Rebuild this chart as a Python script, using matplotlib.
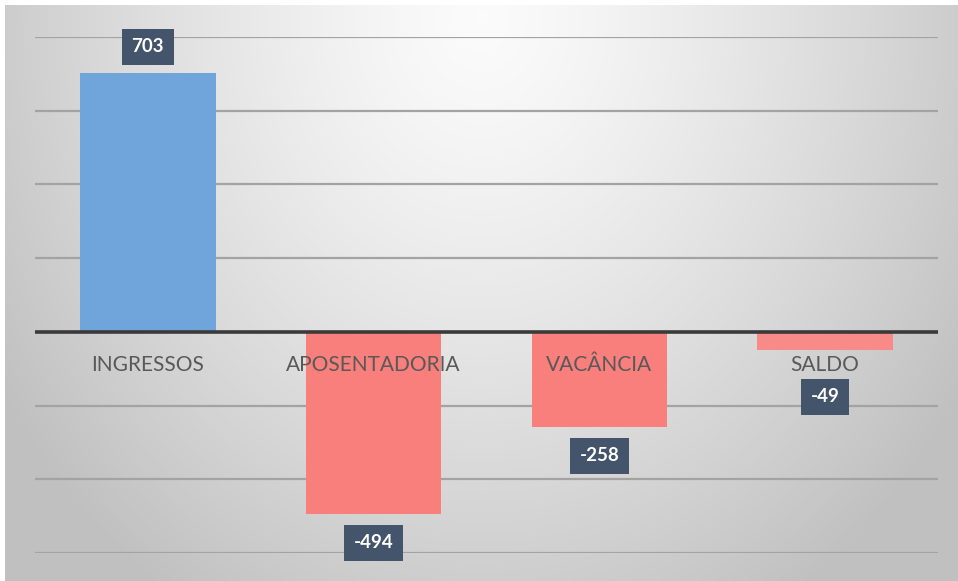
import matplotlib.pyplot as plt
import numpy as np

categorias = ['INGRESSOS', 'APOSENTADORIA', 'VACÂNCIA', 'SALDO']
valores = [703, -494, -258, -49]
cores = ['#6fa5da', '#f87f7b', '#f87f7b', '#f88a87']

W, H = 958, 581
fig = plt.figure(figsize=(W / 100, H / 100), dpi=100)
fig.patch.set_facecolor('white')

# fundo com gradiente radial (estilo Excel)
bg = fig.add_axes([5 / W, 0, 1 - 5 / W, (H - 5) / H])
bg.set_axis_off()
yy, xx = np.mgrid[0:1:300j, 0:1:500j]
t = np.sqrt(((xx - 0.5) / 0.6) ** 2 + ((yy - 0.02) / 1.2) ** 2)
t = np.clip(t, 0, 1)
g = 0.985 - 0.23 * t ** 1.3
img = np.dstack([g, g, g])
bg.imshow(img, extent=[0, 1, 0, 1], origin='upper', aspect='auto')
bg.set_xlim(0, 1)
bg.set_ylim(0, 1)

ax = fig.add_axes([35 / W, 28 / H, 903 / W, 516 / H])
ax.patch.set_alpha(0)
ax.set_xlim(-0.5, 3.5)
ax.set_ylim(-600, 800)

for y in range(-600, 801, 200):
    if y != 0:
        ax.axhline(y, color='#a3a3a3', lw=1.6, zorder=1)

x = np.arange(len(categorias))
ax.bar(x, valores, width=0.6, color=cores, zorder=2)
ax.axhline(0, color='#3a3a3a', lw=2.6, zorder=3)

for s in ax.spines.values():
    s.set_visible(False)
ax.set_xticks([])
ax.set_yticks([])

for i, c in enumerate(categorias):
    ax.annotate(c, (i, 0), xytext=(0, -33), textcoords='offset pixels',
                ha='center', va='center', fontsize=15, color='#595959',
                family='Lato', zorder=4)

for i, v in enumerate(valores):
    if v >= 0:
        off = 26
    elif abs(v) < 100:
        off = -47
    else:
        off = -29
    ax.annotate(str(v), (i, v), xytext=(0, off), textcoords='offset pixels',
                ha='center', va='center', fontsize=13.5, fontweight='bold',
                color='white', family='Lato', zorder=5,
                bbox=dict(boxstyle='square,pad=0.5', fc='#44546a', ec='none'))

fig.savefig('out.png', dpi=100)
